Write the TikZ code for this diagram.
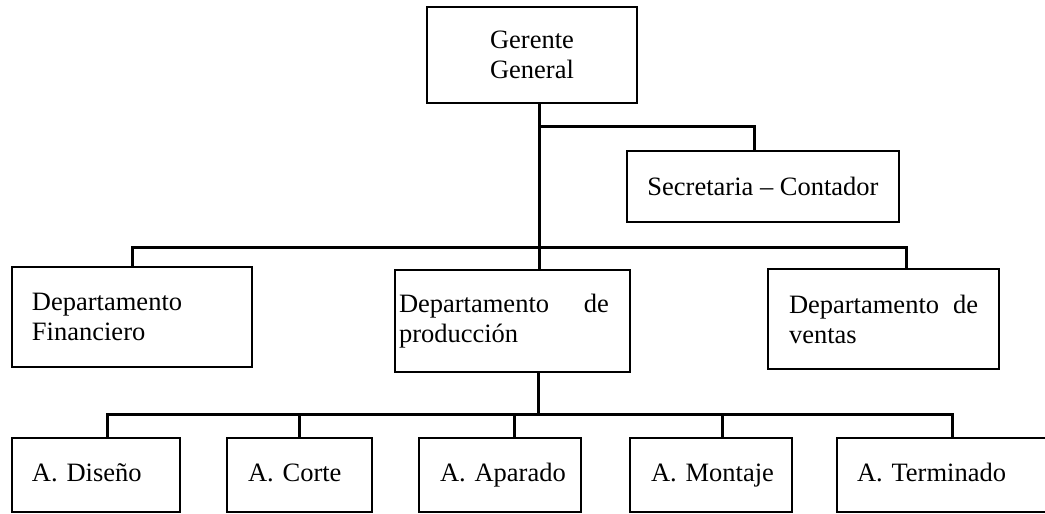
\documentclass[tikz,border=0pt]{standalone}
\usepackage{fontspec}
\setmainfont{Liberation Serif}
\usetikzlibrary{positioning,calc}
\hyphenpenalty=10000

\begin{document}
\begin{tikzpicture}[
    x=0.5pt, y=-0.5pt,
    unit/.style={rectangle, draw, line width=1pt, inner sep=0pt,
                 font=\fontsize{13.25}{15}\selectfont},
    area/.style={unit, minimum height=37pt, align=left, text height=9pt, text depth=3pt},
    link/.style={line width=1.5pt, line join=miter}
]
\useasboundingbox (0,0) rectangle (1045,514);

% top level
\node[unit, minimum width=105pt, minimum height=48pt, align=center] (gerente) at (532,55) {Gerente\\General};
\node[unit, minimum width=136pt, minimum height=35.5pt] (secre) at (763,186.5) {Secretaria – Contador};

% departments
\node[unit, minimum width=120pt, minimum height=50pt, text width=100pt, align=left] (fin) at (132,317) {Departamento\\Financiero};
\node[unit, minimum width=117.5pt, minimum height=51pt, text width=113.5pt, align=left] (prod) at (512.5,321) {\parbox{105pt}{Departamento\hfill de\\producción}};
\node[unit, minimum width=115.5pt, minimum height=50pt, text width=94.5pt, align=justify] (ventas) at (883.5,319) {Departamento de ventas};

% areas of production
\node[area, minimum width=84pt, text width=64pt] (diseno) at (96,475) {A.~Diseño};
\node[area, minimum width=72.5pt, text width=51.5pt] (corte) at (299.5,475) {A.~Corte};
\node[area, minimum width=81pt, text width=60pt] (aparado) at (500,475) {A.~Aparado};
\node[area, minimum width=81pt, text width=60pt] (montaje) at (711,475) {A.~Montaje};
\node[area, minimum width=115pt, text width=95pt] (terminado) at (952,475) {A.~Terminado};

\coordinate (trunk) at (539,0);
\coordinate (sbar) at (539,126);
\coordinate (dbar) at (539,247);
\coordinate (abar) at (538,414);

\draw[link] (gerente.south -| trunk) -- (prod.north -| trunk);
\draw[link] (sbar) -| ($(secre.north)+(-9,0)$);
\foreach \n/\dx in {fin/0, ventas/22.5}
  \draw[link] ($(\n.north)+(\dx,0)$) |- (dbar);
\draw[link] (prod.south -| abar) -- (abar);
\foreach \n/\dx in {diseno/11, corte/0, aparado/14.5, montaje/11, terminado/0}
  \draw[link] ($(\n.north)+(\dx,0)$) |- (abar);
\end{tikzpicture}
\end{document}
